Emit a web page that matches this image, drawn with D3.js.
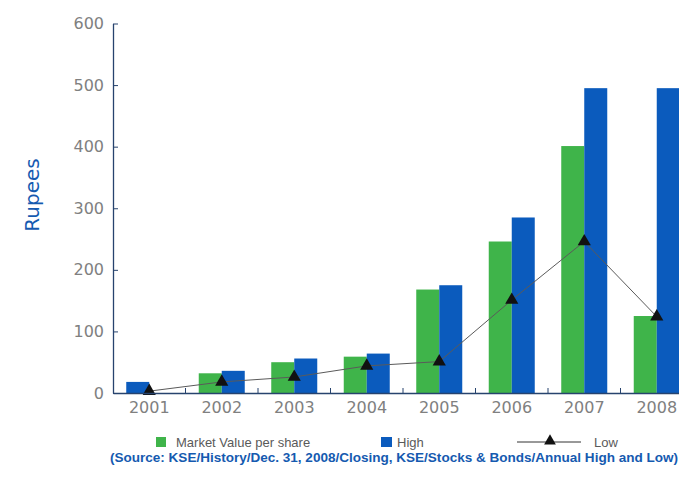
<!DOCTYPE html>
<html>
<head>
<meta charset="utf-8">
<script src="https://cdn.jsdelivr.net/npm/d3@7/dist/d3.min.js"></script>
<style>
  body { margin: 0; background: #ffffff; }
  svg { display: block; }
</style>
</head>
<body>
<svg id="chart" width="679" height="477"></svg>
<script>
// Share price history, Rupees
const years = ["2001", "2002", "2003", "2004", "2005", "2006", "2007", "2008"];
const marketValue = [null, 32, 50, 59, 168, 246, 401, 125];
const high = [18, 36, 56, 64, 175, 285, 495, 495];
const low = [3, 18, 26, 44, 51, 151, 246, 124];
const yTicks = [0, 100, 200, 300, 400, 500, 600];
const seriesNames = ["Market Value per share", "High", "Low"];
const sourceNote = "(Source: KSE/History/Dec. 31, 2008/Closing, KSE/Stocks & Bonds/Annual High and Low)";

const colors = { market: "#3fb44a", high: "#0b5bbd", low: "#111111", axis: "#27436e", tick: "#808080", title: "#155ab0" };

const svg = d3.select("#chart");
const plot = { left: 113, right: 693, top: 23.5, bottom: 393 };

const x0 = d3.scaleBand().domain(years).range([plot.left, plot.right]).padding(0);
const barW = 23;
const x1 = d3.scaleBand().domain([0, 1]).range([-barW, barW]);
const y = d3.scaleLinear().domain([0, 600]).range([plot.bottom, plot.top]);
const center = yr => x0(yr) + x0.bandwidth() / 2;

// bars: each year's present values fill slots left to right
const rows = years.map((yr, i) => {
  const vals = [
    { key: "market", v: marketValue[i] },
    { key: "high", v: high[i] }
  ].filter(d => d.v != null);
  return vals.map((d, slot) => ({ yr, key: d.key, v: d.v, slot }));
}).flat();

svg.append("g").selectAll("rect").data(rows).join("rect")
  .attr("x", d => center(d.yr) + x1(d.slot))
  .attr("y", d => y(d.v))
  .attr("width", x1.bandwidth())
  .attr("height", d => y(0) - y(d.v))
  .attr("fill", d => colors[d.key]);

// low line with triangle markers
const lowPts = years.map((yr, i) => ({ yr, v: low[i] }));
svg.append("path")
  .datum(lowPts)
  .attr("fill", "none")
  .attr("stroke", "#5a5a5a")
  .attr("stroke-width", 1)
  .attr("d", d3.line().x(d => center(d.yr)).y(d => y(d.v)));

const tri = d3.symbol(d3.symbolTriangle, 75);
svg.append("g").selectAll("path").data(lowPts).join("path")
  .attr("transform", d => `translate(${center(d.yr)},${y(d.v)})`)
  .attr("d", tri)
  .attr("fill", colors.low);

// y axis
const yAxis = svg.append("g")
  .attr("transform", `translate(${plot.left},0)`)
  .call(d3.axisLeft(y).tickValues(yTicks).tickSizeInner(-5).tickSizeOuter(0).tickPadding(9));
yAxis.select(".domain").attr("stroke", colors.axis).attr("stroke-width", 1.3);
yAxis.selectAll(".tick line").attr("stroke", colors.axis);
yAxis.selectAll(".tick text")
  .attr("fill", colors.tick)
  .style("font-family", "'DejaVu Sans', sans-serif")
  .style("font-size", "16px");

// x axis
const xAxis = svg.append("g")
  .attr("transform", `translate(0,${plot.bottom})`)
  .call(d3.axisBottom(x0).tickSize(0).tickSizeOuter(0).tickPadding(9));
xAxis.select(".domain").attr("stroke", colors.axis).attr("stroke-width", 1.3);
xAxis.selectAll(".tick text")
  .attr("fill", colors.tick)
  .style("font-family", "'DejaVu Sans', sans-serif")
  .style("font-size", "16px");
// keep the first label clear of the y axis
xAxis.selectAll(".tick").each(function (d) {
  const t = d3.select(this).select("text");
  const w = t.node().getComputedTextLength();
  const cx = center(d);
  const minX = plot.left + w / 2 + 2;
  if (cx < minX) t.attr("x", minX - cx);
});
// category separators
xAxis.append("g").selectAll("line").data(years.slice(1)).join("line")
  .attr("x1", d => x0(d)).attr("x2", d => x0(d))
  .attr("y1", 0).attr("y2", -5)
  .attr("stroke", colors.axis);

// y title
svg.append("text")
  .attr("transform", "translate(39,195) rotate(-90)")
  .attr("text-anchor", "middle")
  .attr("fill", colors.title)
  .style("font-family", "'DejaVu Sans', sans-serif")
  .style("font-size", "20px")
  .text("Rupees");

// legend
const lg = svg.append("g").style("font-family", "'Liberation Sans', Arial, sans-serif").style("font-size", "13px");
lg.append("rect").attr("x", 156).attr("y", 437).attr("width", 10).attr("height", 10).attr("fill", colors.market);
lg.append("text").attr("x", 176).attr("y", 446.5).attr("fill", "#5a5a5a").text(seriesNames[0]);
lg.append("rect").attr("x", 381).attr("y", 437).attr("width", 11).attr("height", 10).attr("fill", colors.high);
lg.append("text").attr("x", 397).attr("y", 446.5).attr("fill", "#5a5a5a").text(seriesNames[1]);
lg.append("line").attr("x1", 517).attr("x2", 581).attr("y1", 442).attr("y2", 442).attr("stroke", "#333").attr("stroke-width", 1);
lg.append("path").attr("transform", "translate(550,441)").attr("d", d3.symbol(d3.symbolTriangle, 60)).attr("fill", colors.low);
lg.append("text").attr("x", 594).attr("y", 446.5).attr("fill", "#5a5a5a").text(seriesNames[2]);

// source note
svg.append("text")
  .attr("x", 110).attr("y", 462)
  .attr("fill", colors.title)
  .attr("textLength", 568)
  .attr("lengthAdjust", "spacingAndGlyphs")
  .style("font-family", "'Liberation Sans', Arial, sans-serif")
  .style("font-size", "12px")
  .style("font-weight", "bold")
  .text(sourceNote);
</script>
</body>
</html>
